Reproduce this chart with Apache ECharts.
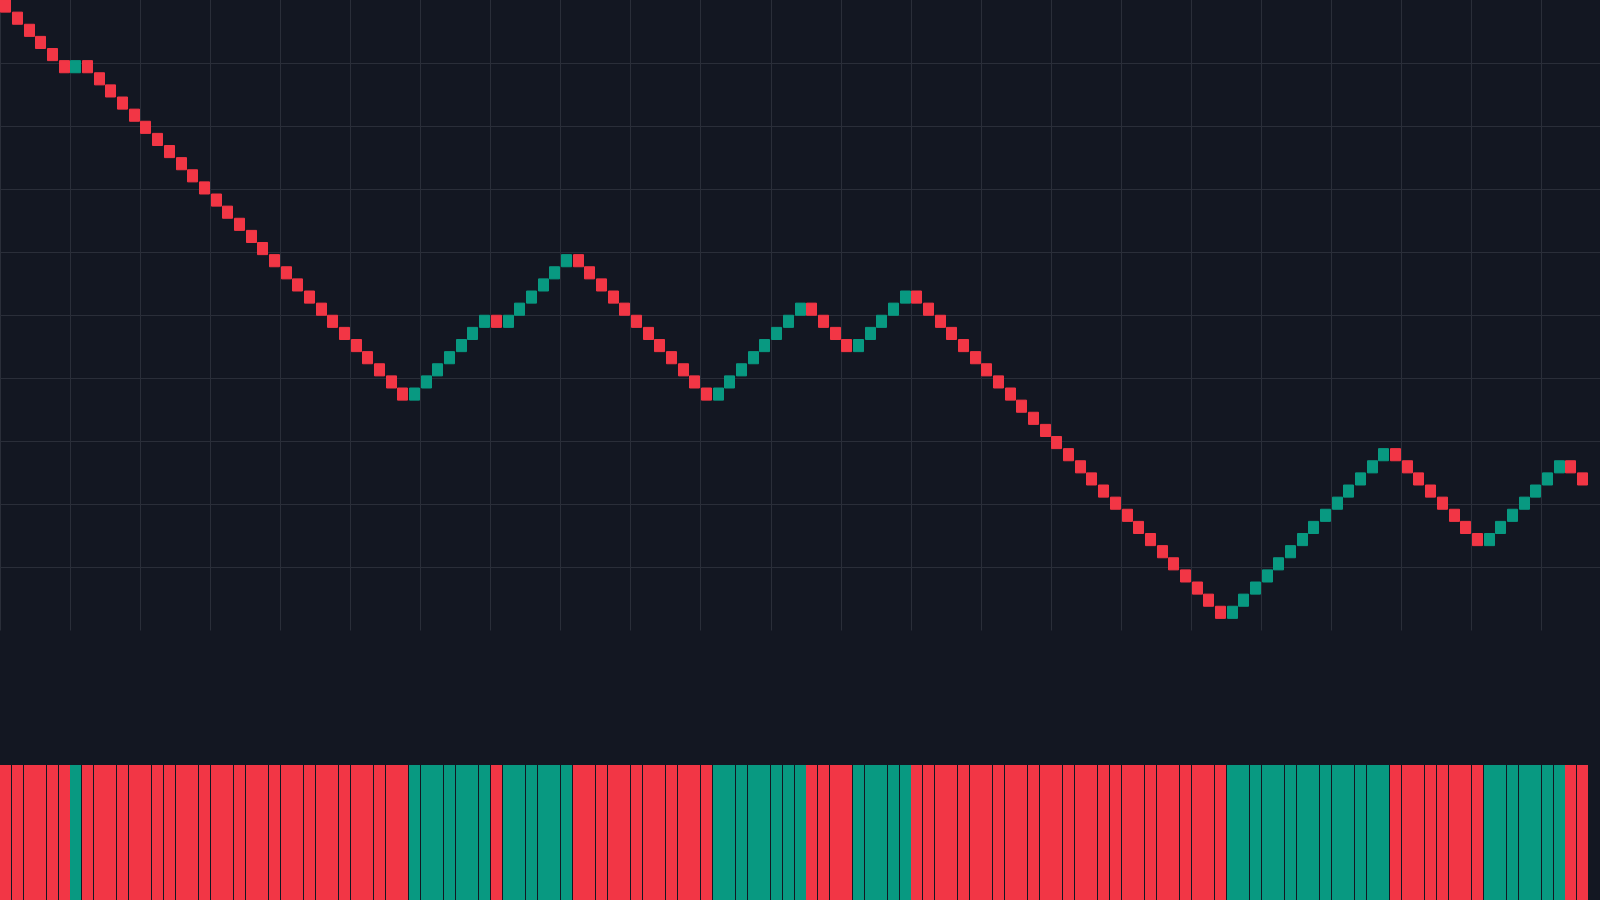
<!DOCTYPE html>
<html>
<head>
<meta charset="utf-8">
<script src="https://cdn.jsdelivr.net/npm/echarts@6/dist/echarts.min.js"></script>
<style>
  html, body { margin: 0; padding: 0; background: #131722; }
  #chart { width: 1600px; height: 900px; }
</style>
</head>
<body>
<div id="chart"></div>
<script>
// Renko bricks, in box units. Each brick opens at the previous brick's close.
const firstOpen = 52;
const closes = [
  51, 50, 49, 48, 47, 46,
  47,
  46, 45, 44, 43, 42, 41, 40, 39, 38, 37, 36, 35, 34, 33, 32, 31, 30, 29, 28, 27, 26, 25, 24, 23, 22, 21, 20, 19,
  20, 21, 22, 23, 24, 25, 26,
  25,
  26, 27, 28, 29, 30, 31,
  30, 29, 28, 27, 26, 25, 24, 23, 22, 21, 20, 19,
  20, 21, 22, 23, 24, 25, 26, 27,
  26, 25, 24, 23,
  24, 25, 26, 27, 28,
  27, 26, 25, 24, 23, 22, 21, 20, 19, 18, 17, 16, 15, 14, 13, 12, 11, 10, 9, 8, 7, 6, 5, 4, 3, 2, 1,
  2, 3, 4, 5, 6, 7, 8, 9, 10, 11, 12, 13, 14, 15,
  14, 13, 12, 11, 10, 9, 8, 7,
  8, 9, 10, 11, 12, 13, 14,
  13, 12
];
// Volume-pane bars (all the same height in the picture)
const volumes = [
  1,1,1,1,1,1,1,1,1,1,1,1,1,1,1,1,1,1,1,1,1,1,1,1,1,1,1,1,1,1,1,1,1,1,
  1,1,1,1,1,1,1,1,1,1,1,1,1,1,1,1,1,1,1,1,1,1,1,1,1,1,1,1,1,1,1,1,1,1,
  1,1,1,1,1,1,1,1,1,1,1,1,1,1,1,1,1,1,1,1,1,1,1,1,1,1,1,1,1,1,1,1,1,1,
  1,1,1,1,1,1,1,1,1,1,1,1,1,1,1,1,1,1,1,1,1,1,1,1,1,1,1,1,1,1,1,1,1,1
];
// One empty slot is left after the last brick (right margin of the price pane)
const categories = closes.map((_, i) => String(i + 1)).concat(['']);

const UP = '#089981';
const DOWN = '#F23645';
const GRID = '#2A2E39';

const opens = closes.map((c, i) => (i === 0 ? firstOpen : closes[i - 1]));
const brickData = closes.map((c, i) => {
  const o = opens[i];
  return [o, c, Math.min(o, c), Math.max(o, c)];
});
const volData = volumes.map((v, i) => [i, v, closes[i] > opens[i] ? 1 : -1]);

const chart = echarts.init(document.getElementById('chart'), null, { renderer: 'canvas' });
chart.setOption({
  backgroundColor: '#131722',
  animation: false,
  grid: [
    { left: 0, top: 0, right: 0, height: 630.5 },
    { left: 0, top: 765, right: 0, bottom: 0 }
  ],
  xAxis: [
    {
      type: 'category', gridIndex: 0, data: categories, boundaryGap: true,
      axisLine: { show: false }, axisTick: { show: false }, axisLabel: { show: false },
      splitLine: { show: true, interval: 5, showMinLine: true, showMaxLine: false,
                   lineStyle: { color: GRID, width: 1 } }
    },
    {
      type: 'category', gridIndex: 1, data: categories, boundaryGap: true,
      axisLine: { show: false }, axisTick: { show: false }, axisLabel: { show: false },
      splitLine: { show: false }
    }
  ],
  yAxis: [
    {
      type: 'value', gridIndex: 0, min: 0, max: 52, interval: 5.2, scale: false,
      axisLine: { show: false }, axisTick: { show: false }, axisLabel: { show: false },
      splitLine: { show: true, showMinLine: false, showMaxLine: false,
                   lineStyle: { color: GRID, width: 1 } }
    },
    {
      type: 'value', gridIndex: 1, min: 0, max: 1,
      axisLine: { show: false }, axisTick: { show: false }, axisLabel: { show: false },
      splitLine: { show: false }
    }
  ],
  series: [
    {
      type: 'candlestick',
      xAxisIndex: 0, yAxisIndex: 0,
      data: brickData,
      barWidth: 10.5,
      itemStyle: {
        color: UP, color0: DOWN,
        borderColor: UP, borderColor0: DOWN,
        borderWidth: 1
      },
      emphasis: { disabled: true },
      silent: true
    },
    {
      type: 'custom',
      xAxisIndex: 1, yAxisIndex: 1,
      data: volData,
      encode: { x: 0, y: 1 },
      silent: true,
      renderItem: function (params, api) {
        const idx = api.value(0);
        const base = api.coord([idx, 0]);
        const top = api.coord([idx, api.value(1)]);
        const left = Math.round(base[0] - 5.5);
        return {
          type: 'rect',
          shape: { x: left, y: top[1], width: 11, height: base[1] - top[1] },
          style: { fill: api.value(2) > 0 ? UP : DOWN }
        };
      }
    }
  ]
});
</script>
</body>
</html>
